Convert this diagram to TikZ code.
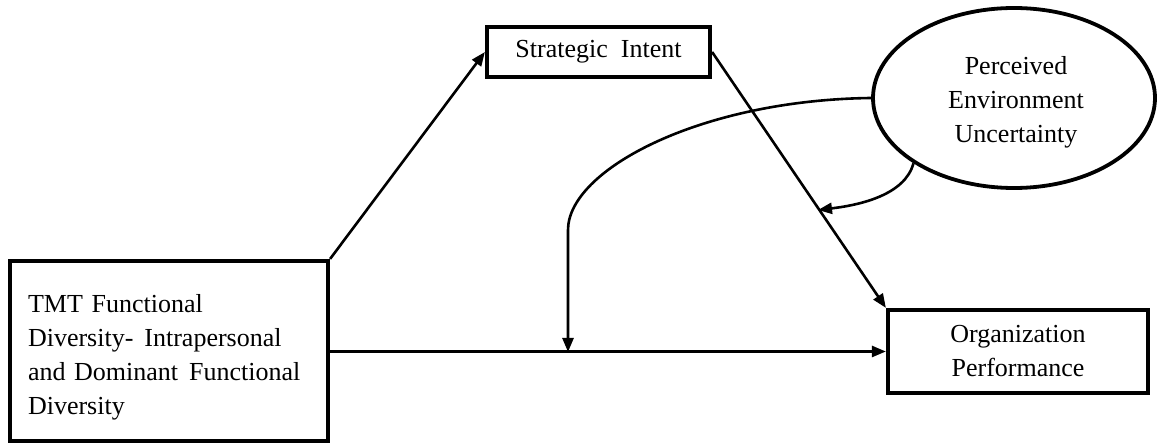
\documentclass[tikz,border=0pt]{standalone}
\usepackage{fontspec}
\setmainfont{Liberation Serif}
\usetikzlibrary{shapes.geometric,arrows.meta}
\tikzset{
  txt/.style={inner sep=0pt, align=center, font=\fontsize{26}{34}\selectfont},
  box/.style={txt, draw, line width=4.2pt, rectangle},
  oval/.style={txt, draw, line width=3.8pt, ellipse},
  conn/.style={line width=2.6pt, -{Triangle[length=14pt,width=11pt]}},
}
\begin{document}
\begin{tikzpicture}[x=1pt,y=-1pt]
\useasboundingbox (0,0) rectangle (1157,443);
\node[box, minimum width=318pt, minimum height=180pt] (tmt) at (169,351) {};
\node[txt, text width=282pt, align=left] (tmtlabel) at (169,357)
  {TMT Functional\\Diversity-\hspace{11pt}Intrapersonal\\and Dominant\hspace{11pt}Functional\\Diversity};
\node[box, minimum width=223pt, minimum height=50pt] (si) at (598.5,52) {Strategic\ \ Intent};
\node[box, minimum width=260pt, minimum height=83pt] (org) at (1018,351.5) {Organization\\Performance};
\node[oval, minimum width=282pt, minimum height=180pt] (pue) at (1014,98) {};
\node[txt] (puelabel) at (1016,102) {Perceived\\Environment\\Uncertainty};
\coordinate (m1) at (568,352);
\coordinate (m2) at (818,210);
\draw[conn] (tmt.north east) -- (si.west);
\draw[conn] (si.east) -- (org.north west);
\draw[conn] (tmt.east |- org.west) -- (org.west);
\draw[conn] (pue.west) .. controls (700,100) and (568,170) .. (568,230) -- (m1);
\draw[conn] (pue.213) .. controls (905,195) and (860,205) .. (m2);
\end{tikzpicture}
\end{document}
